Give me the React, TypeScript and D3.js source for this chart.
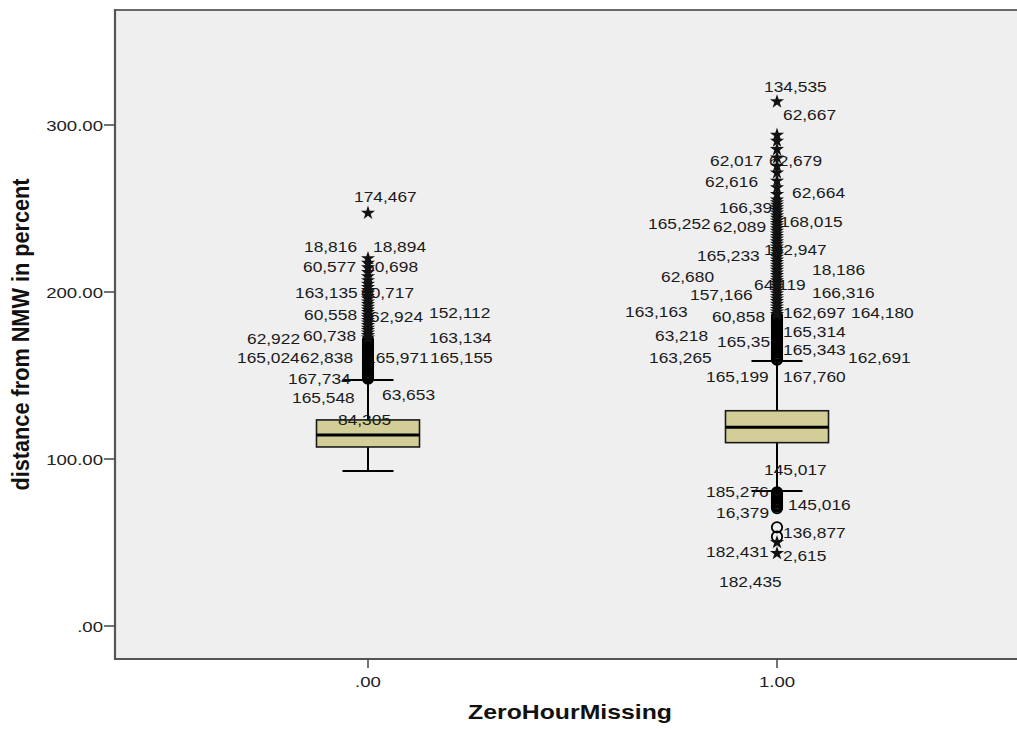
import React from "react";
import * as d3 from "d3";

// ---- data ----
const groups = [".00", "1.00"];
const q1 = [107.2, 109.8];
const median = [114.4, 119.0];
const q3 = [123.4, 128.9];
const whiskerLow = [92.8, 80.8];
const whiskerHigh = [147.3, 158.7];

// outliers (circles) and extremes (stars), per group
const outliersG0 = [148.1, 148.6, 149.3, 150.0, 150.8, 151.5, 152.4, 153.1, 154.0, 154.7, 155.6, 156.4, 157.3, 158.1, 159.0, 159.8, 160.7, 161.5, 162.4, 163.3, 164.1, 165.0, 165.9, 166.8, 167.6, 168.5, 169.4, 170.3, 171.2];
const extremesG0 = [172.6, 174.0, 175.5, 177.1, 178.4, 180.0, 181.6, 183.1, 184.7, 186.2, 187.9, 189.3, 191.0, 192.6, 194.2, 195.9, 197.5, 199.3, 201.0, 202.8, 204.7, 206.9, 209.2, 211.8, 214.6, 217.3, 220.1, 247.3];
const outliersG1 = [159.4, 160.2, 161.1, 162.0, 162.8, 163.7, 164.5, 165.4, 166.3, 167.1, 168.0, 168.9, 169.8, 170.6, 171.5, 172.4, 173.3, 174.1, 175.0, 175.9, 176.8, 177.6, 178.5, 179.4, 180.3, 181.2, 182.0, 182.9, 183.8, 184.7, 185.6,
  80.1, 79.3, 78.6, 77.8, 77.0, 76.2, 75.4, 74.6, 73.8, 73.0, 72.2, 71.4, 70.6, 59.1, 53.5];
const extremesG1 = [186.6, 188.1, 189.7, 191.2, 192.8, 194.4, 195.9, 197.5, 199.0, 200.6, 202.1, 203.7, 205.3, 206.8, 208.4, 210.0, 211.5, 213.1, 214.6, 216.2, 217.8, 219.3, 220.9, 222.4, 224.0, 225.6, 227.1, 228.7, 230.2, 231.8, 233.4, 234.9, 236.5, 238.0, 239.6, 241.2, 242.7, 244.3, 245.8, 247.4, 249.0, 250.5, 252.1, 253.6, 255.2, 258.5, 262.5, 266.5, 271.4, 275.4, 280.4, 285.4, 290.4, 294.0, 314.0, 50.1, 43.5];

// case labels: text, value at baseline, horizontal offset from group centre
const labelsG0 = [
  { t: "174,467", v: 254.1, dx: -14 },
  { t: "18,816", v: 224.1, dx: -64 },
  { t: "18,894", v: 224.1, dx: 5 },
  { t: "60,577", v: 212.2, dx: -65 },
  { t: "60,698", v: 212.2, dx: -3 },
  { t: "163,135", v: 196.2, dx: -73 },
  { t: "60,717", v: 196.2, dx: -7 },
  { t: "60,558", v: 183.2, dx: -64 },
  { t: "62,924", v: 182.0, dx: 2 },
  { t: "152,112", v: 184.6, dx: 61 },
  { t: "62,922", v: 168.9, dx: -121 },
  { t: "60,738", v: 170.8, dx: -65 },
  { t: "163,134", v: 169.6, dx: 61 },
  { t: "165,024", v: 157.3, dx: -131 },
  { t: "62,838", v: 157.3, dx: -68 },
  { t: "165,971", v: 157.3, dx: -2 },
  { t: "165,155", v: 157.3, dx: 62 },
  { t: "167,734", v: 144.9, dx: -80 },
  { t: "165,548", v: 133.7, dx: -76 },
  { t: "63,653", v: 135.3, dx: 14 },
  { t: "84,305", v: 120.4, dx: -30 },
];
const labelsG1 = [
  { t: "134,535", v: 320.0, dx: -13 },
  { t: "62,667", v: 303.0, dx: 6 },
  { t: "62,017", v: 275.4, dx: -67 },
  { t: "62,679", v: 275.4, dx: -8 },
  { t: "62,616", v: 262.7, dx: -72 },
  { t: "62,664", v: 256.1, dx: 15 },
  { t: "166,397", v: 247.5, dx: -58 },
  { t: "165,252", v: 237.5, dx: -129 },
  { t: "62,089", v: 236.1, dx: -64 },
  { t: "168,015", v: 239.1, dx: 3 },
  { t: "165,233", v: 218.7, dx: -80 },
  { t: "162,947", v: 222.2, dx: -13 },
  { t: "62,680", v: 206.2, dx: -116 },
  { t: "18,186", v: 210.2, dx: 35 },
  { t: "64,119", v: 201.2, dx: -23 },
  { t: "157,166", v: 195.2, dx: -87 },
  { t: "166,316", v: 196.2, dx: 35 },
  { t: "163,163", v: 184.8, dx: -152 },
  { t: "60,858", v: 182.2, dx: -65 },
  { t: "162,697", v: 184.3, dx: 6 },
  { t: "164,180", v: 184.3, dx: 74 },
  { t: "63,218", v: 170.8, dx: -122 },
  { t: "165,357", v: 167.2, dx: -60 },
  { t: "165,314", v: 173.2, dx: 6 },
  { t: "163,265", v: 157.3, dx: -128 },
  { t: "165,343", v: 162.3, dx: 6 },
  { t: "162,691", v: 157.3, dx: 71 },
  { t: "165,199", v: 146.3, dx: -71 },
  { t: "167,760", v: 146.3, dx: 6 },
  { t: "145,017", v: 90.4, dx: -13 },
  { t: "185,276", v: 77.1, dx: -71 },
  { t: "145,016", v: 69.5, dx: 11 },
  { t: "16,379", v: 64.5, dx: -61 },
  { t: "136,877", v: 52.5, dx: 6 },
  { t: "182,431", v: 41.5, dx: -71 },
  { t: "2,615", v: 39.1, dx: 6 },
  { t: "182,435", v: 23.5, dx: -58 },
];
const yTicks = [0, 100, 200, 300];
const yTickLabels = [".00", "100.00", "200.00", "300.00"];
const xTitle = "ZeroHourMissing";
const yTitle = "distance from NMW in percent";

const outliers = [outliersG0, outliersG1];
const extremes = [extremesG0, extremesG1];
const labels = [labelsG0, labelsG1];

// ---- layout ----
const W = 1017, H = 729;
const left = 115, top = 10, bottom = 659, right = 1040;
const SX = 1.24; // horizontal stretch of the picture
const FONT = "'Liberation Sans', Arial, sans-serif";

const y = d3.scaleLinear().domain([0, 300]).range([626, 125]);
const x = d3.scalePoint<string>().domain(groups).range([368, 777]);
const boxW = 103;
const capW = 51;
const starPath = d3.symbol(d3.symbolStar, 62)() as string;

function SText({ x, y, children, anchor = "start", size = 14, weight = "normal", fill = "#1a1a1a" }: any) {
  return (
    <text
      transform={`translate(${x},${y}) scale(${SX},1)`}
      textAnchor={anchor}
      fontSize={size}
      fontWeight={weight}
      fontFamily={FONT}
      fill={fill}
    >
      {children}
    </text>
  );
}

export default function App() {
  return (
    <svg width={W} height={H} style={{ position: "absolute", left: 0, top: 0, background: "#fff" }}>
      <rect x={0} y={0} width={W} height={H} fill="#fff" />
      <rect x={left} y={top} width={right - left} height={bottom - top} fill="#efefef" />

      {groups.map((g, i) => {
        const cx = x(g)!;
        return (
          <g key={g}>
            {/* whiskers */}
            <line x1={cx} x2={cx} y1={y(q1[i])} y2={y(whiskerLow[i])} stroke="#000" strokeWidth={2} />
            <line x1={cx} x2={cx} y1={y(q3[i])} y2={y(whiskerHigh[i])} stroke="#000" strokeWidth={2} />
            <line x1={cx - capW / 2} x2={cx + capW / 2} y1={y(whiskerLow[i])} y2={y(whiskerLow[i])} stroke="#000" strokeWidth={2} />
            <line x1={cx - capW / 2} x2={cx + capW / 2} y1={y(whiskerHigh[i])} y2={y(whiskerHigh[i])} stroke="#000" strokeWidth={2} />
            {/* box */}
            <rect
              x={cx - boxW / 2}
              y={y(q3[i])}
              width={boxW}
              height={y(q1[i]) - y(q3[i])}
              fill="#d3ce97"
              stroke="#1a1a1a"
              strokeWidth={1.6}
            />
            <line x1={cx - boxW / 2} x2={cx + boxW / 2} y1={y(median[i])} y2={y(median[i])} stroke="#000" strokeWidth={3} />
            {/* labels */}
            {labels[i].map((l, k) => (
              <SText key={k} x={cx + l.dx} y={y(l.v)}>{l.t}</SText>
            ))}
            {/* outliers */}
            {outliers[i].map((v, k) => (
              <circle key={"o" + k} cx={cx} cy={y(v)} r={5.2} fill="none" stroke="#000" strokeWidth={1.8} />
            ))}
            {extremes[i].map((v, k) => (
              <path key={"e" + k} d={starPath} transform={`translate(${cx},${y(v)})`} fill="#111" />
            ))}
          </g>
        );
      })}

      {/* frame */}
      <line x1={left} x2={right} y1={top} y2={top} stroke="#6a6a6a" strokeWidth={2} />
      <line x1={left} x2={left} y1={top - 1} y2={bottom + 1} stroke="#555" strokeWidth={2.2} />
      <line x1={left} x2={right} y1={bottom} y2={bottom} stroke="#555" strokeWidth={2.2} />

      {/* y axis */}
      {yTicks.map((t, i) => (
        <g key={t}>
          <line x1={left - 11} x2={left} y1={y(t)} y2={y(t)} stroke="#444" strokeWidth={1.5} />
          <SText x={left - 12} y={y(t) + 5.5} anchor="end" size={15} fill="#222">{yTickLabels[i]}</SText>
        </g>
      ))}

      {/* x axis */}
      {groups.map((g) => (
        <g key={g}>
          <line x1={x(g)!} x2={x(g)!} y1={bottom} y2={bottom + 9} stroke="#444" strokeWidth={1.5} />
          <SText x={x(g)!} y={687} anchor="middle" size={15} fill="#222">{g}</SText>
        </g>
      ))}

      {/* titles */}
      <SText x={570} y={719} anchor="middle" size={20} weight="bold" fill="#111">{xTitle}</SText>
      <text
        transform={`translate(29,${(top + bottom) / 2}) scale(${SX},1) rotate(-90)`}
        textAnchor="middle"
        fontSize={20}
        fontWeight="bold"
        fontFamily={FONT}
        fill="#111"
        textLength={312}
        lengthAdjust="spacingAndGlyphs"
      >
        {yTitle}
      </text>
    </svg>
  );
}
